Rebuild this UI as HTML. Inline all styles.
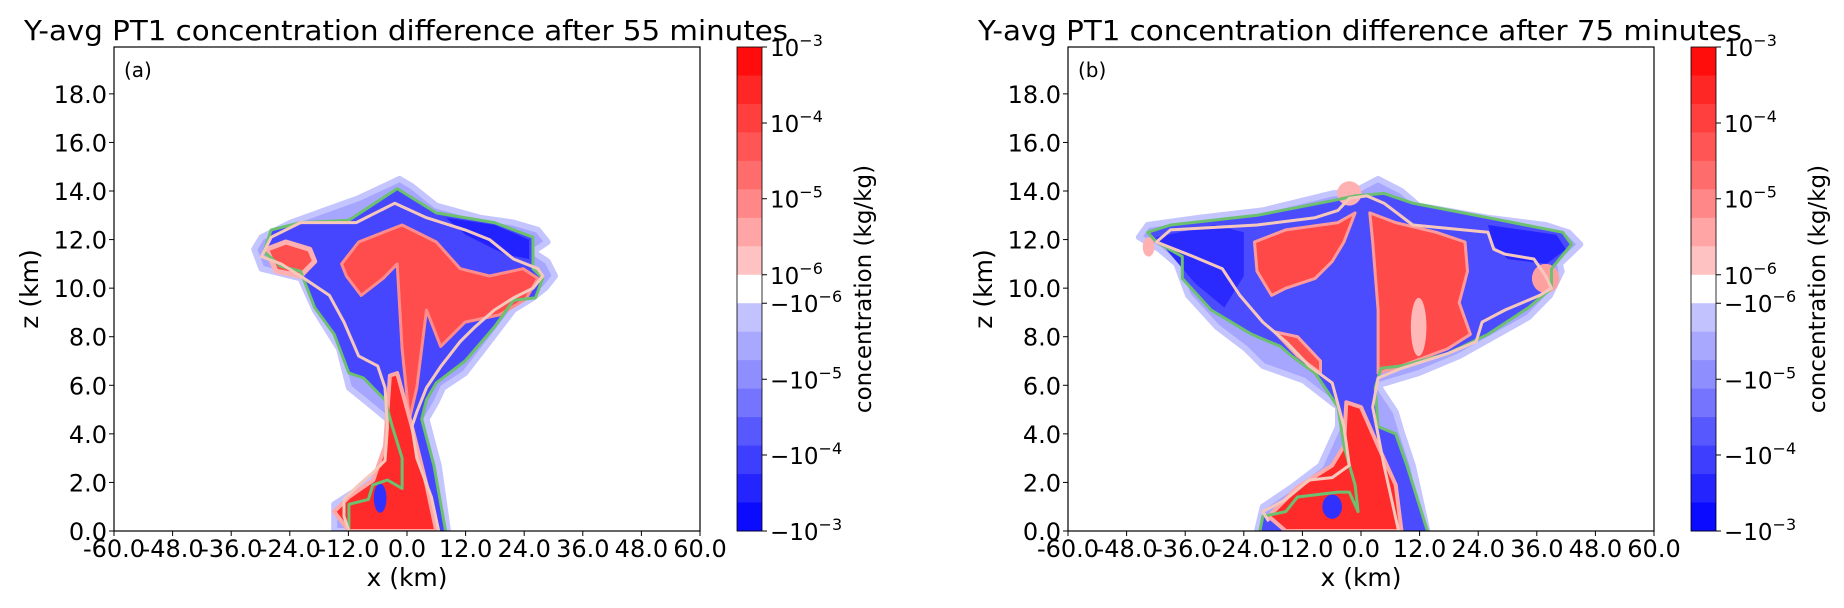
<!DOCTYPE html>
<html><head><meta charset="utf-8">
<style>
html,body{margin:0;padding:0;background:#fff;}
svg{display:block;font-family:"DejaVu Sans","Liberation Sans",sans-serif;}
</style></head>
<body>
<svg id="fig" width="1844" height="608" viewBox="0 0 1844 608" xmlns="http://www.w3.org/2000/svg"></svg>
<script>
// ---- data (km coordinates) ----
const xTicks = [-60,-48,-36,-24,-12,0,12,24,36,48,60];
const zTicks = [0,2,4,6,8,10,12,14,16,18];
const cbarColors = ["#ff0d0d","#ff2626","#ff3e3e","#ff5555","#ff6c6c","#ff8787","#ffa5a5","#ffc2c2","#ffffff","#c2c2ff","#a8a8ff","#8e8eff","#7474ff","#5858ff","#3e3eff","#2424ff","#0b0bff"];
const cbarTickVals = [17,14.33,11.67,9,8,5.33,2.67,0];
const cbarTickExp = ["10|−3","10|−4","10|−5","10|−6","−10|−6","−10|−5","−10|−4","−10|−3"];
const titles = ["Y-avg PT1  concentration difference after 55 minutes","Y-avg PT1  concentration difference after 75 minutes"];
const panelTags = ["(a)","(b)"];

// Panel a
const aEnvelope = [[-1.5,14.5],[1,14.2],[6,13.4],[14.9,12.9],[21.8,12.7],[26.8,12.4],[28.8,11.9],[25.8,11.5],[28.8,11.1],[30.3,10.5],[28.3,10],[25.8,9.6],[21.8,9.1],[16.9,7.8],[11.9,6.5],[7.4,5.9],[6,5.3],[4,4.6],[6.5,2.7],[8.4,0],[-14.9,0],[-14.9,1.1],[-9.9,1.75],[-4,2.7],[-4,4.6],[-7,5.1],[-11.9,5.9],[-13.9,7.5],[-18.9,9.1],[-21.8,10.4],[-29.8,10.8],[-31.3,11.6],[-29.8,12.1],[-23.8,12.7],[-10,13.7]];
const aGreen = [[-11.9,0],[-11.9,1.1],[-7.9,1.3],[-7,1.9],[-4,2.1],[-1,1.75],[-1,3.0],[-3,4.3],[-4.5,5.4],[-8.9,6.3],[-11.9,6.5],[-14.9,8.1],[-18.9,9.2],[-21.8,10.7],[-25.8,10.9],[-29.3,11.5],[-27.8,12.4],[-21.8,12.7],[-11.9,12.8],[-2,14.1],[6,13.1],[17.9,12.7],[25.8,12.1],[25.8,10.8],[27.8,10.4],[26.3,9.6],[21.8,9.5],[17.9,8.4],[11.9,7.0],[6,6.1],[4,5.4],[3,4.6],[5.5,2.7],[7.9,0]];
const aPink = [[-11.9,0],[-12.9,0.6],[-12.9,1.3],[-9.9,1.9],[-7,2.4],[-4.5,2.9],[-4,4.3],[-4.5,5.9],[-6,6.8],[-9.9,7.2],[-12.9,8.6],[-15.9,9.7],[-21.8,10.5],[-25.8,11.0],[-29.8,11.3],[-27.8,12.1],[-21.8,12.7],[-10.4,12.7],[-2.5,13.5],[4,12.9],[11.9,12.4],[16.9,12.0],[21.8,11.2],[26.8,10.8],[27.8,10.5],[25.8,10.0],[21.8,9.6],[17.9,9.1],[13.9,8.4],[10.9,7.8],[7,6.8],[4,5.9],[2,4.9],[1,4.3],[2,3.0],[5,1.4],[6.5,0]];
const aDarkBlue = [[8,12.9],[18,12.6],[25,12.0],[25,11.2],[20,11.4],[12,12.2]];
const aRedMain = [[-13.4,11],[-9.9,11.9],[-1,12.6],[6,11.9],[10.9,10.8],[16.9,10.5],[23.8,10.8],[26.8,10.4],[24.3,9.55],[18.9,8.9],[11.9,8.6],[6.9,7.6],[4,9.1],[2,5.9],[0.5,4.6],[-1,7.5],[-2,11],[-4.9,10.4],[-9.4,9.7],[-12.4,10.5]];
const aRedLow = [[-3.5,6.4],[-2,6.5],[1,4.3],[4,1.9],[6,0],[-11.9,0],[-14.9,0.8],[-11.9,1.4],[-6.9,2.1],[-4.5,3.5]];
const aRedLobe = [[-28.8,11.6],[-24.8,11.9],[-19.9,11.6],[-18.9,11.1],[-21.8,10.5],[-26.8,10.7]];
const aBlueHole = [-5.5,1.35,1.3,0.6];

// Panel b
const bEnvelope = [[3.5,14.5],[8.3,14.0],[11.8,13.4],[26,12.9],[37.8,12.6],[42.5,12.3],[44.9,11.8],[40.7,11.0],[41.1,10.7],[38.7,9.7],[34.3,8.8],[27.2,8.0],[20.1,7.2],[11.8,6.5],[3.5,6.0],[7.1,4.9],[8.3,4.1],[10.6,2.7],[13.6,0],[-21.3,0],[-20.1,1.0],[-14.2,1.8],[-8.3,2.7],[-4.7,4.3],[-4.7,5.1],[-11.8,6.2],[-20.1,6.8],[-23.6,7.5],[-29.5,8.4],[-35.4,9.7],[-37.8,11.0],[-41.3,11.6],[-45.5,12.1],[-43.7,12.6],[-33.1,12.9],[-20.1,13.2],[-5.9,13.9],[-1.2,14.0]];
const bGreen = [[-20.7,0],[-20.1,0.6],[-15.4,0.8],[-13,1.4],[-4.7,1.6],[-2.4,1.6],[-0.6,0.8],[-1.2,1.9],[-3.5,3.5],[-4.7,5.1],[-9.4,6.5],[-14.2,7.2],[-16.5,7.6],[-22.4,8.1],[-30.7,9.1],[-36.6,10.4],[-36.6,11.3],[-41.9,11.9],[-43.7,12.3],[-39,12.6],[-21.3,13.0],[-5.9,13.6],[-1.2,13.8],[4.7,13.9],[10.6,13.5],[26,12.9],[41.3,12.3],[43.1,11.8],[39,10.8],[39,10.0],[34.3,9.2],[26,8.1],[17.7,7.3],[8.3,6.8],[4.1,6.7],[2.9,5.9],[3.5,4.3],[7.1,4.0],[9.4,2.7],[13.6,0]];
const bPink = [[-18.9,0.4],[-20.1,0.8],[-15.4,1.3],[-10.6,2.1],[-5.9,2.2],[-2.4,2.7],[-3.5,4.3],[-5.9,6.1],[-10.6,6.8],[-15.4,7.8],[-20.1,8.6],[-24.8,9.7],[-28.4,10.8],[-34.3,11.3],[-41.9,11.9],[-39,12.4],[-21.3,12.6],[-9.4,12.9],[-4.7,13.2],[-2.4,13.7],[1.2,13.8],[4.7,13.5],[10.6,12.6],[26,12.3],[27.2,11.6],[29.5,11.4],[35.4,11.2],[37.8,10.5],[39,10.0],[36.6,9.7],[29.5,9.1],[24.8,8.6],[23.6,7.8],[17.7,7.3],[8.3,6.7],[3.5,6.3],[2.4,5.1],[4.7,2.7],[7.7,0]];
const bDarkBlue = [[-42,12.1],[-30,12.6],[-24,12.3],[-24,10.5],[-28,9.2],[-34,10.2]];
const bDarkBlue2 = [[26,12.6],[40,12.2],[42,11.6],[38,11.0],[30,11.2],[27,11.8]];
const bRedLeft = [[-21.8,11.9],[-15.4,12.4],[-4.7,12.7],[-1.2,13.1],[-3.5,11.9],[-5.9,11.1],[-9.4,10.4],[-15.4,10.0],[-18.3,9.7],[-21.3,10.7]];
const bRedRight = [[1.8,13.1],[7.1,12.7],[15.4,12.3],[21.3,11.9],[21.8,10.7],[20.1,9.4],[22.4,8.1],[17.7,7.5],[8.3,6.8],[3.5,6.5],[3.5,9.1],[2.4,11.9]];
const bRedMid = [[-17.7,8.2],[-13,8.0],[-8.3,7.0],[-8.3,6.5],[-13,7.2]];
const bRedLow = [[-3,5.3],[0,5.1],[3.5,3.5],[7.1,1.9],[8.3,0],[-15.4,0],[-18.9,0.6],[-13,1.8],[-5.9,2.7],[-3.5,3.5]];
const bRedHole = [11.8,8.4,1.6,1.2];
const bBlueHole = [-5.9,1.0,2.0,0.5];
const bPinkBlobs = [[37.8,10.4,2.8,0.6],[-2.4,13.9,2.5,0.5],[-43.5,11.7,1.2,0.4]];

// ---- rendering ----
const NS="http://www.w3.org/2000/svg";
const svg=document.getElementById('fig');
function el(tag,attrs,parent){const e=document.createElementNS(NS,tag);for(const k in attrs)e.setAttribute(k,attrs[k]);(parent||svg).appendChild(e);return e;}
const AX={w:586,top:47,bottom:531,zmax:19.93};
function panel(idx,off,layers){
  const L=114+off;
  const sx=v=>L+(v+60)/120*AX.w;
  const sz=v=>AX.bottom-v/AX.zmax*(AX.bottom-AX.top);
  const g=el('g',{});
  
  
  const clip=el('clipPath',{id:'clip'+idx},g);
  el('rect',{x:L,y:AX.top,width:AX.w,height:AX.bottom-AX.top},clip);
  const plot=el('g',{'clip-path':'url(#clip'+idx+')'},g);
  
  
  const pts=a=>a.map(p=>sx(p[0]).toFixed(1)+','+sz(p[1]).toFixed(1)).join(' ');
  layers.forEach(ly=>{
    let e;
    if(ly.t==='poly'){e=el('polygon',{points:pts(ly.d),fill:ly.fill,stroke:ly.stroke||'none','stroke-width':ly.sw||0,'stroke-linejoin':'round'},plot);}
    else if(ly.t==='line'){e=el('polyline',{points:pts(ly.d),fill:'none',stroke:ly.stroke,'stroke-width':ly.sw,'stroke-linejoin':'round'},plot);}
    else if(ly.t==='ell'){const d=ly.d;e=el('ellipse',{cx:sx(d[0]),cy:sz(d[1]),rx:d[2]/120*AX.w,ry:d[3]/AX.zmax*(AX.bottom-AX.top),fill:ly.fill},plot);}
    
    
  });
  const frame=el('rect',{x:L,y:AX.top,width:AX.w,height:AX.bottom-AX.top,fill:'none',stroke:'#000','stroke-width':1.2},g);
  
  
  xTicks.forEach(v=>{
    el('line',{x1:sx(v),x2:sx(v),y1:AX.bottom,y2:AX.bottom+5,stroke:'#000'},g);
    const t=el('text',{x:sx(v),y:AX.bottom+26,'font-size':24,'text-anchor':'middle'},g);
    t.textContent=v.toFixed(1);
    
    
  });
  zTicks.forEach(v=>{
    el('line',{x1:L-5,x2:L,y1:sz(v),y2:sz(v),stroke:'#000'},g);
    const t=el('text',{x:L-7,y:sz(v)+9,'font-size':24,'text-anchor':'end'},g);
    t.textContent=v.toFixed(1);
    
    
  });
  const xl=el('text',{x:L+AX.w/2,y:586,'font-size':25,'text-anchor':'middle'},g);
  xl.textContent='x (km)';
  
  
  const yl=el('text',{x:0,y:0,'font-size':25,'text-anchor':'middle',transform:'translate('+(38+off)+','+((AX.top+AX.bottom)/2)+') rotate(-90)'},g);
  yl.textContent='z (km)';
  
  
  const ti=el('text',{x:L-90,y:40,'font-size':28,textLength:764,lengthAdjust:'spacingAndGlyphs'},g);
  ti.textContent=titles[idx];
  
  
  const tag=el('text',{x:L+10,y:77,'font-size':20},g);
  tag.textContent=panelTags[idx];
  
  
  // colorbar
  const cL=737+off,cW=25,cT=AX.top,cB=AX.bottom,n=cbarColors.length,bh=(cB-cT)/n;
  const cb=el('g',{},g);
  
  
  cbarColors.forEach((c,i)=>{el('rect',{x:cL,y:cT+i*bh,width:cW,height:bh+0.5,fill:c},cb);});
  el('rect',{x:cL,y:cT,width:cW,height:cB-cT,fill:'none',stroke:'#000','stroke-width':0.8},cb);
  cbarTickVals.forEach((v,i)=>{
    const y=cB-v/n*(cB-cT);
    el('line',{x1:cL+cW,x2:cL+cW+5,y1:y,y2:y,stroke:'#000'},cb);
    const parts=cbarTickExp[i].split('|');
    const t=el('text',{x:cL+cW+8,y:y+9,'font-size':23},cb);
    
    
    const a=el('tspan',{},t);a.textContent=parts[0];
    const b=el('tspan',{dy:-10,'font-size':16},t);b.textContent=parts[1];
  });
  const cl=el('text',{x:0,y:0,'font-size':23,'text-anchor':'middle',transform:'translate('+(871+off)+','+((AX.top+AX.bottom)/2)+') rotate(-90)'},cb);
  cl.textContent='concentration (kg/kg)';
  
  
}
panel(0,0,[
  {t:'poly',d:aEnvelope,fill:'#a6a6ff',stroke:'#c4c4ff',sw:6,n:'envelope-light-blue'},
  {t:'poly',d:aGreen,fill:'#4646ff',n:'interior-blue'},
  {t:'poly',d:aDarkBlue,fill:'#2222ff',n:'dark-blue-core'},
  {t:'poly',d:aRedLobe,fill:'#ff5050',stroke:'#ffb0b0',sw:5,n:'red-lobe-left'},
  {t:'poly',d:aRedMain,fill:'#ff4c4c',stroke:'#ff8c8c',sw:3,n:'red-upper'},
  {t:'poly',d:aRedLow,fill:'#ff2a2a',stroke:'#ffa8a8',sw:4,n:'red-lower-column'},
  {t:'ell',d:aBlueHole,fill:'#3030ff',n:'blue-pocket'},
  {t:'line',d:aGreen,stroke:'#6cc070',sw:3,n:'green-contour'},
  {t:'line',d:aPink,stroke:'#f6c8bc',sw:3,n:'pink-contour'}
]);
panel(1,954,[
  {t:'poly',d:bEnvelope,fill:'#a6a6ff',stroke:'#c4c4ff',sw:6,n:'envelope-light-blue'},
  {t:'poly',d:bGreen,fill:'#4c4cff',n:'interior-blue'},
  {t:'poly',d:bDarkBlue,fill:'#2a2aff',n:'dark-blue-left'},
  {t:'poly',d:bDarkBlue2,fill:'#2424ff',n:'dark-blue-right'},
  {t:'poly',d:bRedLeft,fill:'#ff4848',stroke:'#ff9a9a',sw:3,n:'red-upper-left'},
  {t:'poly',d:bRedRight,fill:'#ff4a4a',stroke:'#ff9a9a',sw:3,n:'red-upper-right'},
  {t:'ell',d:bRedHole,fill:'#ffb8b8',n:'red-hole'},
  {t:'poly',d:bRedMid,fill:'#ff5050',stroke:'#ffa0a0',sw:3,n:'red-mid-left'},
  {t:'poly',d:bRedLow,fill:'#ff2a2a',stroke:'#ffa8a8',sw:4,n:'red-lower-column'},
  {t:'ell',d:bBlueHole,fill:'#3030ff',n:'blue-pocket'},
  {t:'ell',d:bPinkBlobs[0],fill:'#ffa0a0',n:'pink-blob'},
  {t:'ell',d:bPinkBlobs[1],fill:'#ffb0b0',n:'pink-blob'},
  {t:'ell',d:bPinkBlobs[2],fill:'#ffb0b0',n:'pink-blob'},
  {t:'line',d:bGreen,stroke:'#6cc070',sw:3,n:'green-contour'},
  {t:'line',d:bPink,stroke:'#f6c8bc',sw:3,n:'pink-contour'}
]);
</script>
</body></html>
